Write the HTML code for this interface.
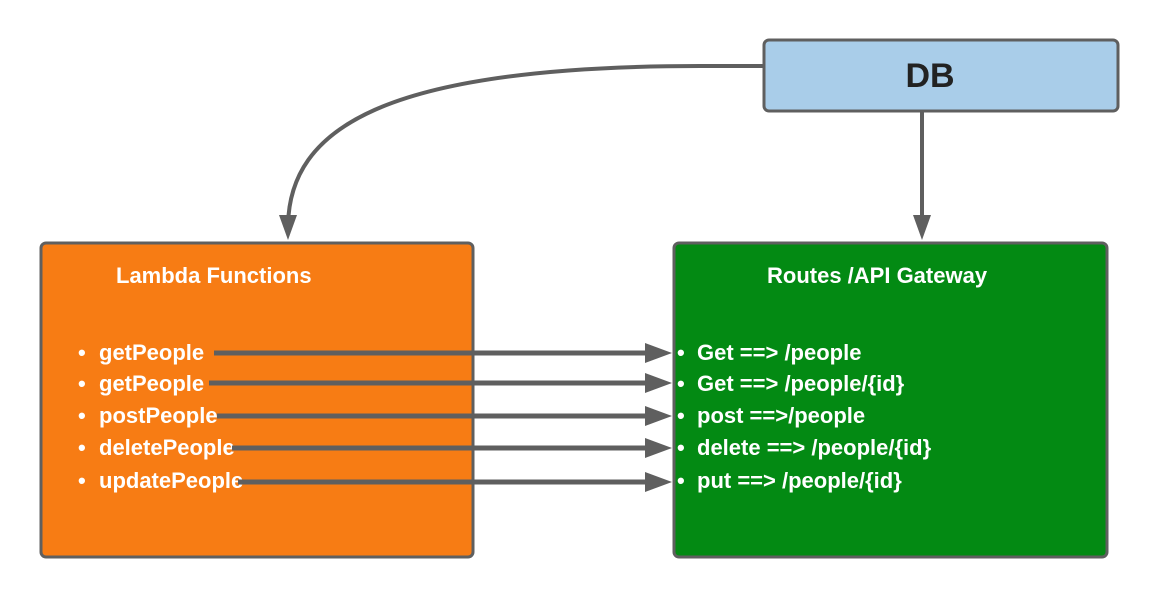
<!DOCTYPE html>
<html><head><style>
body{margin:0;background:#fff;width:1158px;height:599px;overflow:hidden;font-family:"Liberation Sans",sans-serif}
</style></head><body>
<svg width="1158" height="599" xmlns="http://www.w3.org/2000/svg">
<rect x="41" y="243" width="432" height="314" rx="5" fill="#f77c14" stroke="#5f5f5f" stroke-width="3"/>
<rect x="674" y="243" width="433" height="314" rx="5" fill="#038a13" stroke="#5f5f5f" stroke-width="3"/>
<rect x="764" y="40" width="354" height="71" rx="5" fill="#a9cde9" stroke="#5f5f5f" stroke-width="3"/>
<text x="930" y="87" font-size="34" font-weight="bold" fill="#222" text-anchor="middle">DB</text>
<path d="M764,66 L700,66 C380,66 290,130 288,225" fill="none" stroke="#5f5f5f" stroke-width="4"/>
<path d="M279,215 L288,240 L297,215 z" fill="#5f5f5f"/>
<line x1="922" y1="111" x2="922" y2="225" stroke="#5f5f5f" stroke-width="4"/>
<path d="M913,215 L922,240 L931,215 z" fill="#5f5f5f"/>
<g fill="#fff" font-size="22" font-weight="bold">
<text x="116" y="283">Lambda Functions</text>
<text x="767" y="283">Routes /API Gateway</text>
<text x="78" y="360">•</text><text x="99" y="360">getPeople</text>
<text x="78" y="391">•</text><text x="99" y="391">getPeople</text>
<text x="78" y="423">•</text><text x="99" y="423">postPeople</text>
<text x="78" y="455">•</text><text x="99" y="455">deletePeople</text>
<text x="78" y="488">•</text><text x="99" y="488">updatePeople</text>
<text x="677" y="360">•</text><text x="697" y="360">Get ==&gt; /people</text>
<text x="677" y="391">•</text><text x="697" y="391">Get ==&gt; /people/{id}</text>
<text x="677" y="423">•</text><text x="697" y="423">post ==&gt;/people</text>
<text x="677" y="455">•</text><text x="697" y="455">delete ==&gt; /people/{id}</text>
<text x="677" y="488">•</text><text x="697" y="488">put ==&gt; /people/{id}</text>
</g>
<g stroke="#5f5f5f" stroke-width="5">
<line x1="214" y1="353" x2="655" y2="353"/>
<line x1="209" y1="383" x2="655" y2="383"/>
<line x1="217" y1="416" x2="655" y2="416"/>
<line x1="232" y1="448" x2="655" y2="448"/>
<line x1="238" y1="482" x2="655" y2="482"/>
</g>
<g fill="#5f5f5f">
<path d="M645,343 L672,353 L645,363z"/>
<path d="M645,373 L672,383 L645,393z"/>
<path d="M645,406 L672,416 L645,426z"/>
<path d="M645,438 L672,448 L645,458z"/>
<path d="M645,472 L672,482 L645,492z"/>
</g>
</svg>
</body></html>
